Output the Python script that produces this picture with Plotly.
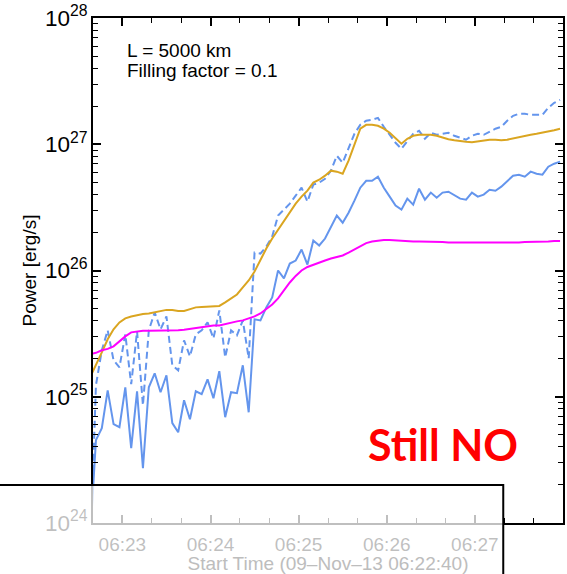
import numpy as np
import pandas as pd
import plotly.graph_objects as go

# ---- data (log10 of power in erg/s), sampled every 4 s starting 06:22:38 ----
times = pd.date_range("2013-11-09 06:22:38", periods=81, freq="4s")

solid_log = [23.87,
    24.656, 24.751, 25.051, 24.783, 24.759, 25.075, 24.593, 25.043, 24.435, 25.075,
    25.186, 25.036, 25.170, 24.791, 24.719, 24.972, 24.822, 25.043, 25.020, 25.138,
    24.988, 25.202, 24.838, 25.036, 25.028, 25.249, 24.877, 25.613, 25.605, 25.708,
    25.787, 26.000, 25.937, 26.055, 26.079, 26.166, 26.047, 26.237, 26.198, 26.253,
    26.340, 26.435, 26.379, 26.458, 26.553, 26.656, 26.711, 26.711, 26.743, 26.656,
    26.585, 26.514, 26.482, 26.569, 26.522, 26.648, 26.561, 26.617, 26.577, 26.617,
    26.624, 26.593, 26.569, 26.561, 26.617, 26.585, 26.601, 26.640, 26.632, 26.664,
    26.711, 26.751, 26.759, 26.743, 26.783, 26.767, 26.759, 26.822, 26.846, 26.862]

dashed_log = [23.71,
    25.091, 25.368, 25.526, 25.289, 25.233, 25.494, 25.099, 25.518, 24.933, 25.526,
    25.668, 25.534, 25.636, 25.249, 25.209, 25.447, 25.320, 25.494, 25.526, 25.589,
    25.462, 25.684, 25.312, 25.526, 25.486, 25.605, 25.304, 26.142, 26.134, 26.190,
    26.269, 26.435, 26.482, 26.530, 26.593, 26.656, 26.545, 26.680, 26.696, 26.727,
    26.791, 26.909, 26.854, 26.964, 27.083, 27.154, 27.186, 27.194, 27.209, 27.138,
    27.075, 27.012, 26.964, 27.028, 27.083, 27.107, 27.043, 27.091, 27.075, 27.083,
    27.091, 27.067, 27.051, 27.036, 27.067, 27.083, 27.075, 27.099, 27.123, 27.138,
    27.186, 27.225, 27.241, 27.241, 27.233, 27.233, 27.233, 27.289, 27.328, 27.352]

orange_log = [25.154,
    25.249, 25.352, 25.455, 25.534, 25.589, 25.621, 25.636, 25.648, 25.656, 25.660,
    25.668, 25.676, 25.688, 25.688, 25.680, 25.680, 25.692, 25.708, 25.711, 25.715,
    25.715, 25.719, 25.747, 25.779, 25.810, 25.866, 25.921, 25.992, 26.087, 26.174,
    26.253, 26.324, 26.395, 26.458, 26.530, 26.585, 26.632, 26.696, 26.719, 26.751,
    26.791, 26.783, 26.767, 26.870, 27.004, 27.123, 27.154, 27.154, 27.146, 27.123,
    27.091, 27.051, 27.004, 27.043, 27.067, 27.075, 27.075, 27.075, 27.067, 27.051,
    27.040, 27.032, 27.024, 27.020, 27.016, 27.024, 27.032, 27.036, 27.036, 27.032,
    27.036, 27.047, 27.059, 27.067, 27.075, 27.083, 27.091, 27.099, 27.111, 27.123]

magenta_log = [25.336,
    25.348, 25.368, 25.379, 25.399, 25.439, 25.478, 25.510, 25.518, 25.522, 25.522,
    25.522, 25.522, 25.522, 25.526, 25.526, 25.530, 25.538, 25.545, 25.553, 25.561,
    25.565, 25.565, 25.577, 25.585, 25.597, 25.605, 25.621, 25.636, 25.660, 25.692,
    25.731, 25.779, 25.842, 25.905, 25.957, 26.000, 26.028, 26.047, 26.063, 26.079,
    26.095, 26.107, 26.119, 26.142, 26.166, 26.194, 26.217, 26.229, 26.237, 26.241,
    26.241, 26.237, 26.233, 26.233, 26.229, 26.229, 26.229, 26.229, 26.225, 26.225,
    26.221, 26.221, 26.221, 26.217, 26.217, 26.217, 26.221, 26.221, 26.221, 26.221,
    26.221, 26.221, 26.221, 26.225, 26.225, 26.225, 26.229, 26.229, 26.233, 26.233]

x_range = ["2013-11-09 06:22:40", "2013-11-09 06:28:00"]
y_range_log = [24, 28]
x_title = "Start Time (09\u2013Nov\u201313 06:22:40)"
y_title = "Power [erg/s]"
note_lines = ["L = 5000 km", "Filling factor = 0.1"]
stamp = "Still NO"

# minor tick positions: every 20 s on x, 2..9 x 10^n on y
x_minor = list(pd.date_range("2013-11-09 06:22:40", "2013-11-09 06:28:00", freq="20s"))
y_minor = [m * 10.0 ** e for e in range(24, 28) for m in range(2, 10)]

# ---- layout geometry (pixels) ----
W, H = 567, 574
L, R, T, B = 93, 2, 17, 51
PW, PH = W - L - R, H - T - B


def fx(px):
    return (px - L) / PW


def fy(py):
    return (H - B - py) / PH


FONT = "Liberation Sans, Arial, Helvetica, sans-serif"
BLUE = "#6495ED"
ORANGE = "#DAA520"
MAGENTA = "#FF00FF"

fig = go.Figure()
fig.add_trace(go.Scatter(x=times, y=10 ** np.array(solid_log), mode="lines",
                         line=dict(color=BLUE, width=2), hoverinfo="skip"))
fig.add_trace(go.Scatter(x=times, y=10 ** np.array(dashed_log), mode="lines",
                         line=dict(color=BLUE, width=2, dash="7px,4px"), hoverinfo="skip"))
fig.add_trace(go.Scatter(x=times, y=10 ** np.array(orange_log), mode="lines",
                         line=dict(color=ORANGE, width=2), hoverinfo="skip"))
fig.add_trace(go.Scatter(x=times, y=10 ** np.array(magenta_log), mode="lines",
                         line=dict(color=MAGENTA, width=2), hoverinfo="skip"))
# invisible trace on the overlay axes that carry the minor ticks
fig.add_trace(go.Scatter(x=[times[1]], y=[10 ** magenta_log[1]], xaxis="x2", yaxis="y2",
                         mode="markers", marker=dict(opacity=0), hoverinfo="skip"))

minor_common = dict(ticks="inside", ticklen=5, tickwidth=1.2, tickcolor="black",
                    showticklabels=False, showgrid=False, zeroline=False,
                    showline=False, mirror="ticks",
                    tickmode="array")

fig.update_layout(
    width=W, height=H,
    margin=dict(l=L, r=R, t=T, b=B, pad=0),
    paper_bgcolor="white", plot_bgcolor="white",
    showlegend=False,
    font=dict(family=FONT, color="black", size=18),
    xaxis=dict(
        type="date", range=x_range,
        tickformat="%H:%M", tick0="2013-11-09 06:23:00", dtick=60000,
        ticks="inside", ticklen=8, tickwidth=1.5, tickcolor="black",
        showline=True, linecolor="black", linewidth=1.5, mirror="ticks",
        showgrid=False, zeroline=False,
        tickfont=dict(size=19), ticklabelstandoff=3,
        title=dict(text=x_title, font=dict(size=19, color="#bdbdbd"), standoff=2),
    ),
    yaxis=dict(
        type="log", range=y_range_log, dtick=1,
        exponentformat="power", showexponent="all",
        ticks="inside", ticklen=8, tickwidth=1.5, tickcolor="black",
        showline=True, linecolor="black", linewidth=1.5, mirror="ticks",
        showgrid=False, zeroline=False,
        tickfont=dict(size=18),
        title=dict(text=y_title, font=dict(size=19), standoff=3),
    ),
    xaxis2=dict(type="date", range=x_range, overlaying="x", anchor="y2", side="bottom",
                tickvals=x_minor, **minor_common),
    yaxis2=dict(type="log", range=y_range_log, overlaying="y", anchor="x2", side="left",
                tickvals=y_minor, **minor_common),
)

# text notes
fig.add_annotation(x=fx(125), y=fy(50), xref="paper", yref="paper",
                   text=note_lines[0], showarrow=False, xanchor="left", yanchor="middle",
                   font=dict(size=19, family=FONT, color="black"))
fig.add_annotation(x=fx(125), y=fy(69.5), xref="paper", yref="paper",
                   text=note_lines[1], showarrow=False, xanchor="left", yanchor="middle",
                   font=dict(size=19, family=FONT, color="black"))
fig.add_annotation(x=fx(444), y=fy(444), xref="paper", yref="paper",
                   text="<b>" + stamp + "</b>", showarrow=False,
                   xanchor="center", yanchor="middle",
                   font=dict(size=43, family="Lato, Open Sans, sans-serif", color="#FF0000"))

# translucent overlay box covering the bottom-left
fig.add_shape(type="rect", xref="paper", yref="paper",
              x0=fx(-10), x1=fx(505), y0=fy(600), y1=fy(485),
              fillcolor="rgba(255,255,255,0.75)", line=dict(color="black", width=2),
              layer="above")

fig.write_html("out.html")
